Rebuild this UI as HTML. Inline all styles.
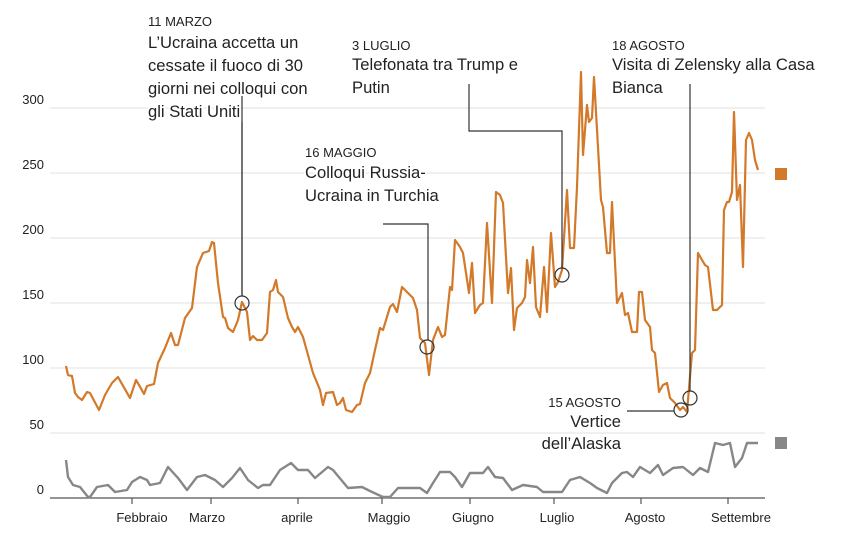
<!DOCTYPE html>
<html><head><meta charset="utf-8"><style>
html,body{margin:0;padding:0;background:#fff}
svg{display:block}
text{font-family:"Liberation Sans",sans-serif;fill:#222}
.main{font-size:16.6px;paint-order:stroke;stroke:#fff;stroke-width:4px}
.ax{font-size:13px;fill:#333}
</style></head><body>
<svg width="841" height="543" viewBox="0 0 841 543">
<g stroke="#e6e6e6" stroke-width="1.2">
<line x1="50" x2="765" y1="108" y2="108"/>
<line x1="50" x2="765" y1="173" y2="173"/>
<line x1="50" x2="765" y1="238" y2="238"/>
<line x1="50" x2="765" y1="303" y2="303"/>
<line x1="50" x2="765" y1="368" y2="368"/>
<line x1="50" x2="765" y1="433" y2="433"/>
</g>
<g class="ax" text-anchor="end">
<text x="44" y="104">300</text><text x="44" y="169">250</text><text x="44" y="234">200</text>
<text x="44" y="299">150</text><text x="44" y="364">100</text><text x="44" y="429">50</text><text x="44" y="494">0</text>
</g>
<line x1="50" x2="765" y1="498" y2="498" stroke="#555" stroke-width="1.2"/>
<g stroke="#555" stroke-width="1.2">
<line x1="132" x2="132" y1="498" y2="504"/><line x1="211" x2="211" y1="498" y2="504"/>
<line x1="298" x2="298" y1="498" y2="504"/><line x1="382" x2="382" y1="498" y2="504"/>
<line x1="470" x2="470" y1="498" y2="504"/><line x1="554" x2="554" y1="498" y2="504"/>
<line x1="641" x2="641" y1="498" y2="504"/><line x1="728" x2="728" y1="498" y2="504"/>
</g>
<g class="ax" text-anchor="middle">
<text x="142" y="522">Febbraio</text><text x="207" y="522">Marzo</text><text x="297" y="522">aprile</text>
<text x="389" y="522">Maggio</text><text x="473" y="522">Giugno</text><text x="557" y="522">Luglio</text>
<text x="645" y="522">Agosto</text><text x="741" y="522">Settembre</text>
</g>
<polyline fill="none" stroke="#878787" stroke-width="2.4" stroke-linejoin="round" points="66,460 68,477 73,485 80,487 88,497 90,497 97,487 108,485 115,492 127,490 132,482 140,477 147,480 150,485 160,483 168,467 178,478 187,490 197,477 205,475 215,480 223,487 232,478 240,468 248,480 258,488 263,485 270,485 280,470 291,463 298,470 308,470 315,478 328,467 333,470 348,488 362,487 370,491 383,497 390,497 398,488 420,488 427,493 433,483 440,472 450,472 455,477 462,487 470,473 483,473 488,467 495,477 503,478 512,490 523,485 537,487 543,492 562,492 570,480 580,477 590,483 597,488 607,493 612,483 622,473 627,472 633,477 640,467 650,473 658,465 663,475 673,468 683,467 693,475 700,468 708,472 715,443 723,445 730,443 735,467 742,458 747,443 758,443"/>
<polyline fill="none" stroke="#d2792a" stroke-width="2.2" stroke-linejoin="round" points="66,366 68,375 72,376 75,393 78,397 82,400 87,392 90,393 99,410 105,395 112,383 118,377 130,398 136,380 139,385 144,394 147,386 154,384 158,363 165,348 171,333 175,345 178,345 185,318 192,308 197,267 203,253 209,251 212,242 214,243 218,283 223,317 225,318 228,328 233,332 238,320 242,302 247,312 250,340 253,336 257,340 262,340 267,333 270,292 273,290 276,280 278,292 283,297 288,318 292,327 295,332 298,327 303,337 308,355 313,373 320,390 323,405 326,393 333,392 337,405 340,403 343,398 346,410 352,412 357,405 360,404 365,383 370,373 375,350 380,328 383,330 390,307 393,304 397,312 402,287 413,298 417,310 420,338 425,343 429,375 433,340 438,327 442,337 445,335 450,287 452,290 455,240 460,247 463,253 469,293 472,263 475,313 480,305 483,303 487,223 492,303 496,192 500,195 503,203 508,293 511,268 514,330 517,308 522,303 525,297 527,260 530,283 533,247 536,307 540,317 544,267 547,312 551,233 555,287 558,282 562,270 567,190 570,248 574,248 577,187 581,72 583,155 587,105 589,122 592,118 594,77 601,200 603,207 607,253 610,253 612,202 617,303 622,293 625,315 628,313 632,332 637,332 639,292 642,292 645,320 650,327 652,350 655,353 659,392 663,385 667,383 670,398 675,403 680,410 683,407 687,412 692,353 695,350 698,253 702,260 705,265 708,267 713,310 717,310 722,305 724,210 727,202 729,202 732,192 734,112 737,200 740,185 743,267 746,140 749,133 752,140 755,160 758,170"/>
<rect x="775" y="168" width="12" height="12" fill="#d2792a"/>
<rect x="775" y="437" width="12" height="12" fill="#878787"/>
<g fill="none" stroke="#333" stroke-width="1.2">
<line x1="242" y1="84" x2="242" y2="296"/>
</g>
<g class="main">
<text x="148" y="26" style="font-size:13px">11 MARZO</text>
<text x="148" y="48">L’Ucraina accetta un</text>
<text x="148" y="71">cessate il fuoco di 30</text>
<text x="148" y="94">giorni nei colloqui con</text>
<text x="148" y="117">gli Stati Uniti</text>
<text x="305" y="157" style="font-size:13px">16 MAGGIO</text>
<text x="305" y="178">Colloqui Russia-</text>
<text x="305" y="201">Ucraina in Turchia</text>
<text x="352" y="50" style="font-size:13px">3 LUGLIO</text>
<text x="352" y="70">Telefonata tra Trump e</text>
<text x="352" y="93">Putin</text>
<text x="612" y="50" style="font-size:13px">18 AGOSTO</text>
<text x="612" y="70">Visita di Zelensky alla Casa</text>
<text x="612" y="93">Bianca</text>
<text x="621" y="407" text-anchor="end" style="font-size:13px">15 AGOSTO</text>
<text x="621" y="427" text-anchor="end">Vertice</text>
<text x="621" y="449" text-anchor="end">dell’Alaska</text>
</g>
<g fill="none" stroke="#333" stroke-width="1.2">
<line x1="242" y1="122" x2="242" y2="296"/>
<circle cx="242" cy="303" r="7"/>
<polyline points="383,224 428,224 428,340"/>
<circle cx="427" cy="347" r="7"/>
<polyline points="469,84 469,131 562,131 562,268"/>
<circle cx="562" cy="275" r="7"/>
<line x1="690" y1="84" x2="690" y2="391"/>
<circle cx="690" cy="398" r="7"/>
<line x1="627" y1="411" x2="674" y2="411"/>
<circle cx="681" cy="410" r="7"/>
</g>
</svg>
</body></html>
